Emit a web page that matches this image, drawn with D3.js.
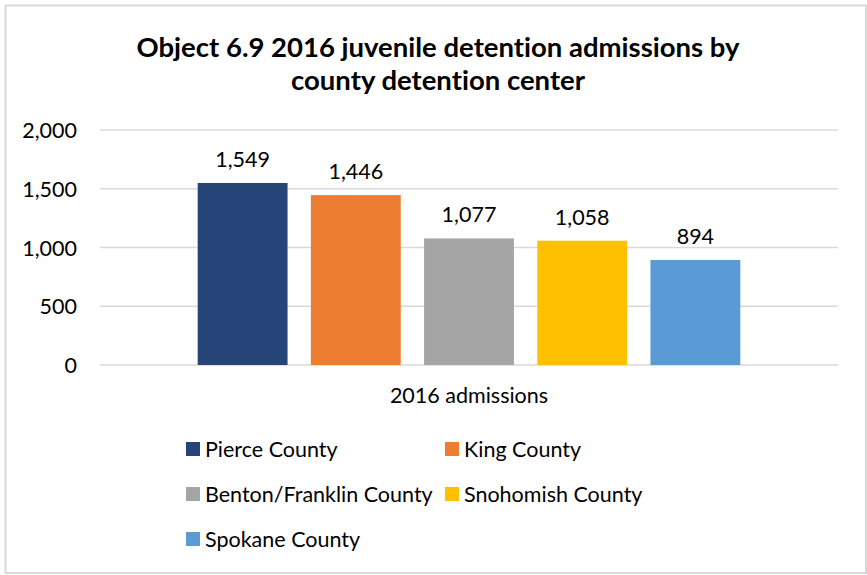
<!DOCTYPE html>
<html>
<head>
<meta charset="utf-8">
<script src="https://cdn.jsdelivr.net/npm/d3@7"></script>
<style>
  html, body { margin: 0; padding: 0; background: #fff; }
  svg { display: block; font-family: Lato, "Open Sans", sans-serif; font-variant-ligatures: none; }
</style>
</head>
<body>
<svg id="chart" width="867" height="575"></svg>
<script>
// Chart data
const titleLines = ["Object 6.9 2016 juvenile detention admissions by", "county detention center"];
const category = "2016 admissions";
const seriesNames = ["Pierce County", "King County", "Benton/Franklin County", "Snohomish County", "Spokane County"];
const seriesValues = [1549, 1446, 1077, 1058, 894];
const seriesColors = ["#264478", "#ED7D31", "#A5A5A5", "#FFC000", "#5B9BD5"];
const yTicks = [0, 500, 1000, 1500, 2000];

const svg = d3.select("#chart");
const W = 867, H = 575;

// Chart frame
svg.append("rect")
  .attr("x", 5.5).attr("y", 5.5)
  .attr("width", W - 6.5).attr("height", H - 7.5)
  .attr("fill", "#fff").attr("stroke", "#d9d9d9").attr("stroke-width", 2);

// Title
svg.append("text")
  .attr("text-anchor", "middle")
  .attr("font-weight", "bold")
  .attr("font-size", 27.5)
  .attr("fill", "#000")
  .selectAll("tspan").data(titleLines).join("tspan")
  .attr("x", 438).attr("y", (d, i) => 57 + i * 33)
  .text(d => d);

// Plot area
const plot = { left: 100, right: 838, top: 130, bottom: 365 };

const y = d3.scaleLinear().domain([0, 2000]).range([plot.bottom, plot.top]);

const x0 = d3.scaleBand().domain([category])
  .range([plot.left, plot.right]).paddingInner(0).paddingOuter(0.18);
const x1 = d3.scaleBand().domain(seriesNames)
  .range([0, x0.bandwidth()]).paddingInner(0.206).paddingOuter(0);

// Gridlines
svg.append("g").selectAll("line").data(yTicks).join("line")
  .attr("x1", plot.left).attr("x2", plot.right)
  .attr("y1", d => y(d)).attr("y2", d => y(d))
  .attr("stroke", "#d9d9d9").attr("stroke-width", 1.5);

// Y axis labels
const fmt = d3.format(",");
const yAxis = d3.axisLeft(y).tickValues(yTicks).tickFormat(fmt).tickSize(0).tickPadding(0);
const yg = svg.append("g").attr("transform", `translate(${77},0)`).call(yAxis);
yg.select(".domain").remove();
yg.selectAll("text")
  .attr("font-family", "Lato, 'Open Sans', sans-serif")
  .attr("font-size", 21.5).attr("fill", "#000").attr("dy", "0.35em");

// Bars
const data = seriesNames.map((name, i) => ({ name, value: seriesValues[i], color: seriesColors[i] }));
const g = svg.append("g").attr("transform", `translate(${x0(category)},0)`);
g.selectAll("rect").data(data).join("rect")
  .attr("x", d => x1(d.name))
  .attr("y", d => y(d.value))
  .attr("width", x1.bandwidth())
  .attr("height", d => y(0) - y(d.value))
  .attr("fill", d => d.color);

// Value labels
g.selectAll("text.val").data(data).join("text")
  .attr("class", "val")
  .attr("x", d => x1(d.name) + x1.bandwidth() / 2)
  .attr("y", d => y(d.value) - 16)
  .attr("text-anchor", "middle")
  .attr("font-size", 21.5).attr("fill", "#000")
  .text(d => fmt(d.value));

// Category axis label
svg.append("text")
  .attr("x", x0(category) + x0.bandwidth() / 2)
  .attr("y", 403)
  .attr("text-anchor", "middle")
  .attr("font-size", 21.5).attr("fill", "#000")
  .text(category);

// Legend
const legendCols = [186, 445];
const legendRows = [449, 494, 539];
const lg = svg.append("g").selectAll("g").data(data).join("g")
  .attr("transform", (d, i) => `translate(${legendCols[i % 2]},${legendRows[Math.floor(i / 2)]})`);
lg.append("rect")
  .attr("x", 0).attr("y", -7).attr("width", 14).attr("height", 14)
  .attr("fill", d => d.color);
lg.append("text")
  .attr("x", 19).attr("y", 0).attr("dy", "0.35em")
  .attr("font-size", 21.5).attr("fill", "#000")
  .text(d => d.name);
</script>
</body>
</html>
